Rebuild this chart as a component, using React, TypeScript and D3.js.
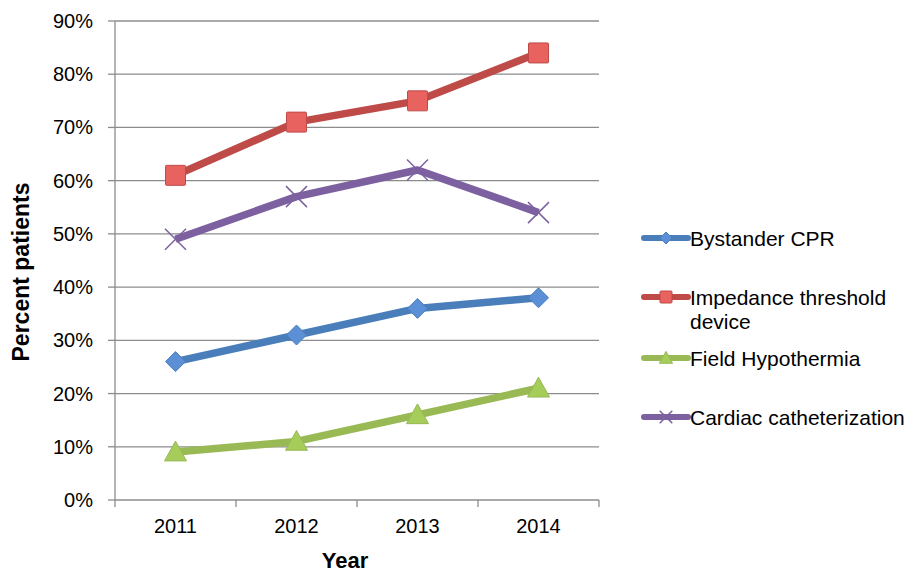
import React from "react";
import * as d3 from "d3";

const years = ["2011", "2012", "2013", "2014"];
const yTicks = [0, 0.1, 0.2, 0.3, 0.4, 0.5, 0.6, 0.7, 0.8, 0.9];

const seriesNames = [
  "Bystander CPR",
  "Impedance threshold device",
  "Field Hypothermia",
  "Cardiac catheterization",
];
const bystanderCPR = [0.26, 0.31, 0.36, 0.38];
const impedanceDevice = [0.61, 0.71, 0.75, 0.84];
const fieldHypothermia = [0.09, 0.11, 0.16, 0.21];
const cardiacCath = [0.49, 0.57, 0.62, 0.54];

const seriesValues = [bystanderCPR, impedanceDevice, fieldHypothermia, cardiacCath];
const lineColors = ["#4a7ebb", "#be4b48", "#98b954", "#7d60a0"];
const markerFill = ["#5b8fd6", "#e8625f", "#a6cc5a", "#7d60a0"];
const markerKinds = ["diamond", "square", "triangle", "x"];

const W = 909;
const H = 575;
const left = 115;
const right = 599;
const top = 21;
const bottom = 500;

function Marker({ kind, cx, cy, color, fill, scale = 1 }: any) {
  if (kind === "diamond") {
    const r = 10 * scale;
    return (
      <path
        d={`M${cx},${cy - r}L${cx + r},${cy}L${cx},${cy + r}L${cx - r},${cy}Z`}
        fill={fill}
        stroke={color}
        strokeWidth={1}
      />
    );
  }
  if (kind === "square") {
    const s = 10 * scale;
    return (
      <rect x={cx - s} y={cy - s} width={2 * s} height={2 * s} fill={fill} stroke={color} strokeWidth={1} rx={1} />
    );
  }
  if (kind === "triangle") {
    const s = 11 * scale;
    return (
      <path
        d={`M${cx},${cy - s}L${cx + s},${cy + s * 0.8}L${cx - s},${cy + s * 0.8}Z`}
        fill={fill}
        stroke={color}
        strokeWidth={1}
      />
    );
  }
  const s = 10.5 * scale;
  return (
    <path
      d={`M${cx - s},${cy - s}L${cx + s},${cy + s}M${cx - s},${cy + s}L${cx + s},${cy - s}`}
      stroke={color}
      strokeWidth={1.5}
    />
  );
}

export default function App() {
  const x = d3.scaleBand<string>().domain(years).range([left, right]);
  const y = d3.scaleLinear().domain([0, 0.9]).range([bottom, top]);
  const line = d3
    .line<number>()
    .x((_, i) => x(years[i])! + x.bandwidth() / 2)
    .y((d) => y(d));

  const legendY = [238, 297, 358, 417];
  const font = "'Liberation Sans', Arial, sans-serif";

  return (
    <svg
      width={W}
      height={H}
      style={{ position: "absolute", left: 0, top: 0, background: "#fff" }}
      fontFamily={font}
    >
      {/* grid */}
      {yTicks.map((t) => (
        <g key={t}>
          {t > 0 && <line x1={left} x2={right} y1={y(t)} y2={y(t)} stroke="#8c8c8c" strokeWidth={1.3} />}
          <line x1={left - 7} x2={left} y1={y(t)} y2={y(t)} stroke="#8c8c8c" strokeWidth={1.3} />
          <text x={left - 22} y={y(t) + 7} textAnchor="end" fontSize={20} fill="#000">
            {d3.format(".0%")(t)}
          </text>
        </g>
      ))}
      {/* axes */}
      <line x1={left} x2={left} y1={top} y2={bottom} stroke="#8c8c8c" strokeWidth={1.3} />
      <line x1={left} x2={right} y1={bottom} y2={bottom} stroke="#8c8c8c" strokeWidth={1.3} />
      {years.map((yr) => (
        <line key={yr} x1={x(yr)!} x2={x(yr)!} y1={bottom} y2={bottom + 7} stroke="#8c8c8c" strokeWidth={1.3} />
      ))}
      <line x1={right} x2={right} y1={bottom} y2={bottom + 7} stroke="#8c8c8c" strokeWidth={1.3} />
      {years.map((yr) => (
        <text key={yr} x={x(yr)! + x.bandwidth() / 2} y={533} textAnchor="middle" fontSize={20}>
          {yr}
        </text>
      ))}
      <text x={345} y={568} textAnchor="middle" fontSize={22} fontWeight="bold">
        Year
      </text>
      <text
        transform={`translate(29,272) rotate(-90)`}
        textAnchor="middle"
        fontSize={23}
        fontWeight="bold"
      >
        Percent patients
      </text>

      {/* series */}
      {seriesValues.map((vals, si) => (
        <g key={si}>
          <path d={line(vals)!} fill="none" stroke={lineColors[si]} strokeWidth={7.5} strokeLinejoin="round" />
          {vals.map((v, i) => (
            <Marker
              key={i}
              kind={markerKinds[si]}
              cx={x(years[i])! + x.bandwidth() / 2}
              cy={y(v)}
              color={lineColors[si]}
              fill={markerFill[si]}
            />
          ))}
        </g>
      ))}

      {/* legend */}
      {seriesNames.map((name, si) => (
        <g key={name}>
          <line x1={644} x2={688} y1={legendY[si]} y2={legendY[si]} stroke={lineColors[si]} strokeWidth={6} strokeLinecap="round" />
          <Marker kind={markerKinds[si]} cx={666} cy={legendY[si]} color={lineColors[si]} fill={markerFill[si]} scale={0.6} />
          {si === 1 ? (
            <text x={690} y={legendY[si] + 8} fontSize={21}>
              <tspan x={690}>Impedance threshold</tspan>
              <tspan x={690} dy={24}>device</tspan>
            </text>
          ) : (
            <text x={690} y={legendY[si] + 8} fontSize={21}>
              {name}
            </text>
          )}
        </g>
      ))}
    </svg>
  );
}
